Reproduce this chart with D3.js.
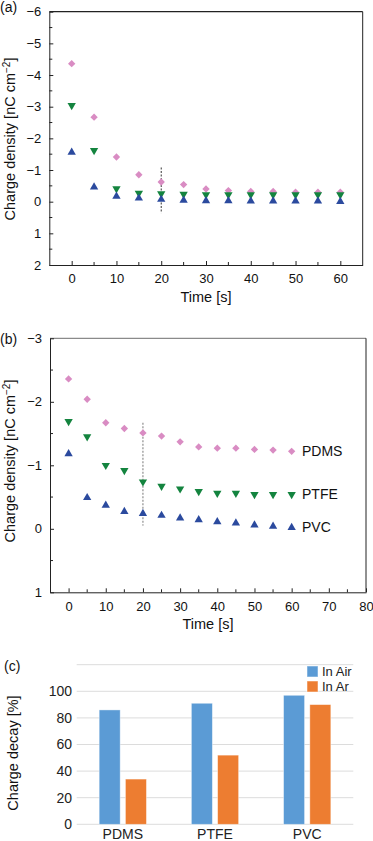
<!DOCTYPE html>
<html>
<head>
<meta charset="utf-8">
<script src="https://cdn.jsdelivr.net/npm/d3@7"></script>
<style>
  body { margin: 0; background: #fff; }
  svg { display: block; font-family: "Liberation Sans", Arial, sans-serif; }
</style>
</head>
<body>
<svg id="chart" width="373" height="841"></svg>
<script>
// time points (s)
const times = [0, 5, 10, 15, 20, 25, 30, 35, 40, 45, 50, 55, 60];

// panel (a) charge density in air [nC cm-2]
const airPDMS = [-4.36, -2.67, -1.41, -0.85, -0.62, -0.54, -0.40, -0.35, -0.32, -0.32, -0.30, -0.30, -0.30];
const airPTFE = [-3.04, -1.62, -0.41, -0.27, -0.25, -0.24, -0.22, -0.22, -0.22, -0.22, -0.22, -0.22, -0.22];
const airPVC = [-1.56, -0.46, -0.17, -0.11, -0.07, -0.04, -0.03, -0.03, -0.02, -0.02, -0.02, -0.02, 0.0];

// panel (b) charge density in argon
const arPDMS = [-2.36, -2.04, -1.67, -1.58, -1.51, -1.46, -1.37, -1.29, -1.27, -1.27, -1.25, -1.24, -1.22];
const arPTFE = [-1.69, -1.45, -1.00, -0.92, -0.74, -0.67, -0.63, -0.59, -0.56, -0.56, -0.54, -0.54, -0.54];
const arPVC = [-1.18, -0.49, -0.37, -0.27, -0.24, -0.21, -0.17, -0.14, -0.11, -0.09, -0.06, -0.04, -0.02];

// panel (c) charge decay [%]
const materials = ["PDMS", "PTFE", "PVC"];
const decayAir = [86, 91, 97];
const decayAr = [34, 52, 90];
const decaySeries = ["In Air", "In Ar"];

const COLORS = {PDMS: "#d98cc3", PTFE: "#14843f", PVC: "#2b4a9e"};
const BAR_COLORS = {"In Air": "#5b9bd5", "In Ar": "#ed7d31"};

const svg = d3.select("#chart");

function scatterPanel(opts) {
    const x = d3.scaleLinear().domain(opts.xDomain).range(opts.xRange);
    const y = d3.scaleLinear().domain(opts.yDomain).range(opts.yRange);
    const g = svg.append("g");
    const [x0, x1] = opts.xRange;
    const [y0, y1] = opts.yRange;

    // frame
    g.append("line").attr("x1", x0).attr("x2", x1).attr("y1", y0).attr("y2", y0)
        .attr("stroke", opts.topColor).attr("stroke-width", 1.2);
    g.append("line").attr("x1", x1).attr("x2", x1).attr("y1", y0).attr("y2", y1)
        .attr("stroke", "#222").attr("stroke-width", 1);

    // inward ticks
    const yMajor = d3.range(opts.yDomain[0], opts.yDomain[1] + 0.01, 1);
    const yMinor = d3.range(opts.yDomain[0] + 0.5, opts.yDomain[1], 1);
    const yAxis = g.append("g").attr("transform", `translate(${x0},0)`)
        .call(d3.axisLeft(y).tickValues(yMajor).tickSizeInner(-4).tickSizeOuter(0).tickPadding(8).tickFormat(d3.format("d")));
    yAxis.append("g").selectAll("line").data(yMinor).join("line")
        .attr("x1", 0).attr("x2", 3).attr("y1", d => y(d)).attr("y2", d => y(d)).attr("stroke", "#222");
    yAxis.select(".domain").attr("stroke", "#222");
    yAxis.selectAll(".tick line").attr("stroke", "#222");
    yAxis.selectAll("text").attr("font-size", 13).attr("fill", "#111");

    const xMajor = d3.range(0, opts.xMax + 1, 10);
    const xMinor = d3.range(5, opts.xMax, 10);
    const xAxis = g.append("g").attr("transform", `translate(0,${y1})`)
        .call(d3.axisBottom(x).tickValues(xMajor).tickSizeInner(-4).tickSizeOuter(0).tickPadding(9));
    xAxis.append("g").selectAll("line").data(xMinor).join("line")
        .attr("x1", d => x(d)).attr("x2", d => x(d)).attr("y1", 0).attr("y2", -3).attr("stroke", "#222");
    xAxis.select(".domain").attr("stroke", "#222");
    xAxis.selectAll(".tick line").attr("stroke", "#222");
    xAxis.selectAll("text").attr("font-size", 13).attr("fill", "#111");

    // dotted marker line at 20 s
    g.append("line")
        .attr("x1", x(20)).attr("x2", x(20))
        .attr("y1", y(opts.markLine[0])).attr("y2", y(opts.markLine[1]))
        .attr("stroke", opts.markColor).attr("stroke-width", 1).attr("stroke-dasharray", "2,1.5");

    const series = [
        {name: "PDMS", values: opts.pdms, symbol: d3.symbolSquare, size: 27, rot: 45},
        {name: "PTFE", values: opts.ptfe, symbol: d3.symbolTriangle, size: 30, rot: 180},
        {name: "PVC", values: opts.pvc, symbol: d3.symbolTriangle, size: 30, rot: 0}
    ];
    series.forEach(s => {
        g.append("g").selectAll("path").data(times.map((t, i) => ({t, v: s.values[i]}))).join("path")
            .attr("d", d3.symbol().type(s.symbol).size(s.size))
            .attr("transform", d => `translate(${x(d.t)},${y(d.v)}) rotate(${s.rot})`)
            .attr("fill", COLORS[s.name]);
    });

    // axis titles
    g.append("text").attr("x", (x0 + x1) / 2).attr("y", y1 + 37)
        .attr("text-anchor", "middle").attr("font-size", 14.5).attr("fill", "#111").text("Time [s]");
    const yt = g.append("text")
        .attr("transform", `translate(${opts.yTitleX},${opts.yTitleY}) rotate(-90)`)
        .attr("text-anchor", "middle").attr("font-size", 14.5).attr("fill", "#111");
    yt.append("tspan").text("Charge density [nC cm");
    yt.append("tspan").attr("baseline-shift", "super").attr("font-size", 10).text("\u22122");
    yt.append("tspan").text("]");

    g.append("text").attr("x", 0).attr("y", opts.labelY).attr("font-size", 14).attr("fill", "#111").text(opts.label);
    return {g, x, y};
}

scatterPanel({
    xDomain: [-5, 65], xRange: [49.3, 362.7], xMax: 60,
    yDomain: [-6, 2], yRange: [11.7, 265],
    pdms: airPDMS, ptfe: airPTFE, pvc: airPVC,
    topColor: "#222", markLine: [-1.08, 0.36], markColor: "#333",
    yTitleX: 15, yTitleY: 139, label: "(a)", labelY: 12
});

const pb = scatterPanel({
    xDomain: [-5, 80], xRange: [50, 366], xMax: 80,
    yDomain: [-3, 1], yRange: [338.3, 592.3],
    pdms: arPDMS, ptfe: arPTFE, pvc: arPVC,
    topColor: "#8a8a8a", markLine: [-1.67, -0.05], markColor: "#777",
    yTitleX: 15, yTitleY: 461, label: "(b)", labelY: 344
});

// series labels on panel (b)
const lastVals = {PDMS: arPDMS, PTFE: arPTFE, PVC: arPVC};
materials.forEach(m => {
    pb.g.append("text").attr("x", 302).attr("y", pb.y(lastVals[m][lastVals[m].length - 1]))
        .attr("dy", "0.35em").attr("font-size", 14).attr("fill", "#111").text(m);
});

// panel (c) bar chart
const x0 = d3.scaleBand().domain(materials).range([76.7, 353.3]);
const x1 = d3.scaleBand().domain(decaySeries).range([0, x0.bandwidth()]).paddingInner(0.2).paddingOuter(0.856);
const yc = d3.scaleLinear().domain([0, 120]).range([824.3, 664.7]);
const gc = svg.append("g");

gc.append("g").selectAll("line").data(d3.range(0, 121, 20)).join("line")
    .attr("x1", 76.7).attr("x2", 353.3).attr("y1", d => yc(d)).attr("y2", d => yc(d))
    .attr("stroke", "#dcdcdc").attr("stroke-width", 1);
gc.append("g").selectAll("text").data(d3.range(0, 101, 20)).join("text")
    .attr("x", 72).attr("y", d => yc(d)).attr("dy", "0.35em").attr("text-anchor", "end")
    .attr("font-size", 14).attr("fill", "#222").text(d => d);

const barData = [];
materials.forEach((m, i) => {
    barData.push({m, s: "In Air", v: decayAir[i]});
    barData.push({m, s: "In Ar", v: decayAr[i]});
});
gc.append("g").selectAll("rect").data(barData).join("rect")
    .attr("x", d => x0(d.m) + x1(d.s)).attr("width", x1.bandwidth())
    .attr("y", d => yc(d.v)).attr("height", d => yc(0) - yc(d.v))
    .attr("fill", d => BAR_COLORS[d.s])
    .attr("stroke", "#fff").attr("stroke-opacity", 0.5).attr("stroke-width", 0.8);

gc.append("g").selectAll("text").data(materials).join("text")
    .attr("x", d => x0(d) + x0.bandwidth() / 2).attr("y", 839)
    .attr("text-anchor", "middle").attr("font-size", 14).attr("fill", "#222").text(d => d);

gc.append("text").attr("transform", "translate(18,753) rotate(-90)")
    .attr("text-anchor", "middle").attr("font-size", 14.5).attr("fill", "#111").text("Charge decay [%]");

const leg = gc.append("g").selectAll("g").data(decaySeries).join("g")
    .attr("transform", (d, i) => `translate(307,${666 + i * 15})`);
leg.append("rect").attr("width", 11).attr("height", 11).attr("fill", d => BAR_COLORS[d])
    .attr("stroke", "#fff").attr("stroke-opacity", 0.5);
leg.append("text").attr("x", 15).attr("y", 5.5).attr("dy", "0.35em")
    .attr("font-size", 13).attr("fill", "#222").text(d => d);

gc.append("text").attr("x", 4).attr("y", 671).attr("font-size", 14).attr("fill", "#111").text("(c)");
</script>
</body>
</html>
